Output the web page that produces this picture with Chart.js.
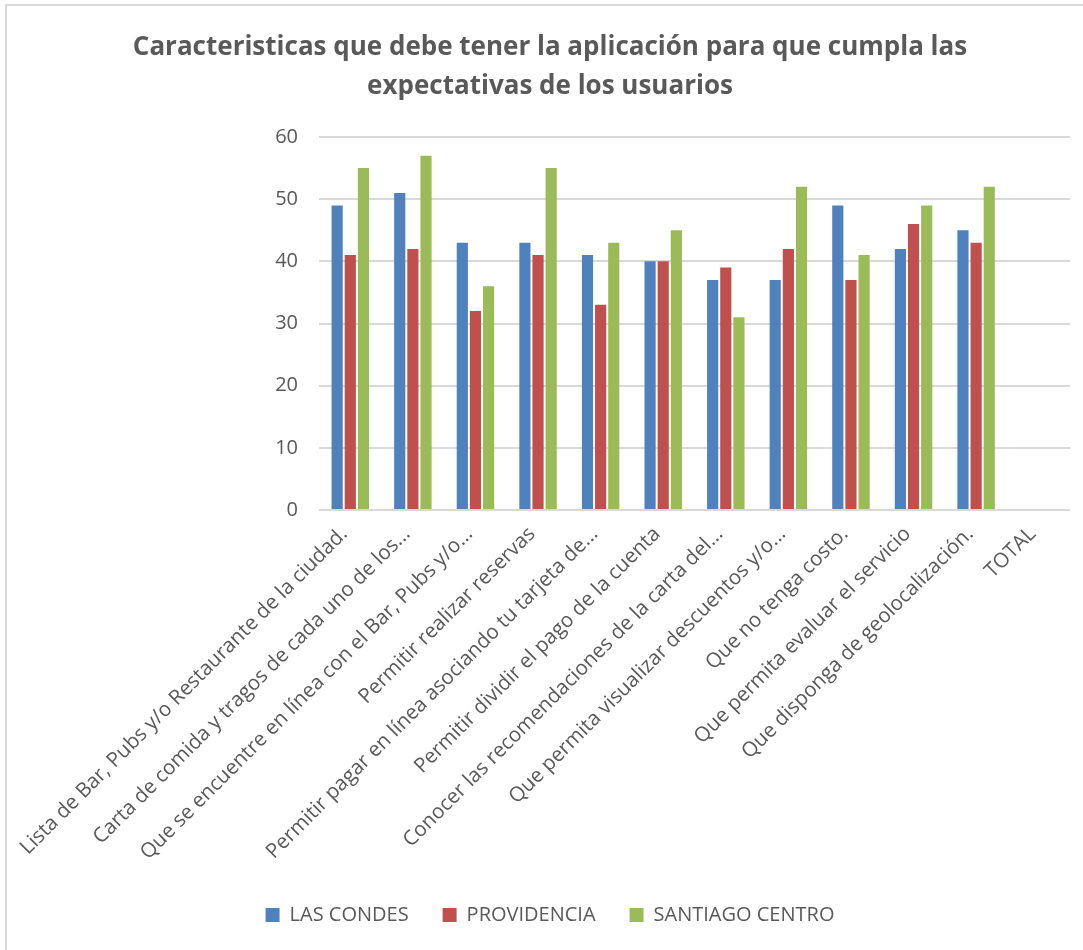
<!DOCTYPE html>
<html lang="es">
<head>
<meta charset="utf-8">
<title>Caracteristicas de la aplicación</title>
<script src="https://cdn.jsdelivr.net/npm/chart.js@4/dist/chart.umd.min.js"></script>
<style>
    html, body { margin: 0; padding: 0; background: #ffffff; }
    #wrap { position: relative; width: 1083px; height: 950px; }
</style>
</head>
<body>
<div id="wrap"><canvas id="chart" width="1083" height="950"></canvas></div>
<script>
// Categorías (eje X)
const categorias = [
    'Lista de Bar, Pubs y/o Restaurante de la ciudad.',
    'Carta de comida y tragos de cada uno de los...',
    'Que se encuentre en línea con el Bar, Pubs y/o...',
    'Permitir realizar reservas',
    'Permitir pagar en línea asociando tu tarjeta de...',
    'Permitir dividir el pago de la cuenta',
    'Conocer las recomendaciones de la carta del...',
    'Que permita visualizar descuentos y/o...',
    'Que no tenga costo.',
    'Que permita evaluar el servicio',
    'Que disponga de geolocalización.',
    'TOTAL'
];

// Valores por comuna
const lasCondes      = [49, 51, 43, 43, 41, 40, 37, 37, 49, 42, 45, null];
const providencia    = [41, 42, 32, 41, 33, 40, 39, 42, 37, 46, 43, null];
const santiagoCentro = [55, 57, 36, 55, 43, 45, 31, 52, 41, 49, 52, null];

// Eje Y
const ejeMin = 0;
const ejeMax = 60;
const ejePaso = 10;

const titulo = [
    'Caracteristicas que debe tener la aplicación para que cumpla las',
    'expectativas de los usuarios'
];

const GRIS_TEXTO = '#595959';
const GRIS_REJILLA = '#D9D9D9';

// marco del gráfico (solo borde superior e izquierdo visibles)
const marco = {
    id: 'marco',
    beforeDraw(chart) {
        const ctx = chart.ctx;
        ctx.save();
        ctx.fillStyle = '#ffffff';
        ctx.fillRect(0, 0, chart.width, chart.height);
        ctx.strokeStyle = GRIS_REJILLA;
        ctx.lineWidth = 2;
        ctx.beginPath();
        ctx.moveTo(6, chart.height + 5);
        ctx.lineTo(6, 5);
        ctx.lineTo(chart.width + 5, 5);
        ctx.stroke();
        ctx.restore();
    }
};

const serie = (label, data, color) => ({
    label,
    data,
    backgroundColor: color,
    borderWidth: 0,
    categoryPercentage: 0.63,
    barPercentage: 0.85
});

new Chart(document.getElementById('chart').getContext('2d'), {
    type: 'bar',
    data: {
        labels: categorias,
        datasets: [
            serie('LAS CONDES', lasCondes, '#4F81BD'),
            serie('PROVIDENCIA', providencia, '#C0504D'),
            serie('SANTIAGO CENTRO', santiagoCentro, '#9BBB59')
        ]
    },
    options: {
        responsive: false,
        animation: false,
        layout: { padding: { left: 30, right: 13, top: 0, bottom: 15 } },
        plugins: {
            title: {
                display: true,
                text: titulo,
                color: GRIS_TEXTO,
                font: { family: '"Open Sans", sans-serif', size: 26, weight: 'bold', lineHeight: 1.5 },
                padding: { top: 28, bottom: 31 }
            },
            legend: {
                position: 'bottom',
                labels: {
                    color: GRIS_TEXTO,
                    font: { family: '"Open Sans", sans-serif', size: 20 },
                    boxWidth: 14,
                    boxHeight: 14,
                    padding: 34
                }
            },
            tooltip: { enabled: false }
        },
        scales: {
            x: {
                grid: { display: false },
                border: { display: false },
                ticks: {
                    color: GRIS_TEXTO,
                    font: { family: '"Open Sans", sans-serif', size: 20.5 },
                    minRotation: 45,
                    maxRotation: 45,
                    autoSkip: false,
                    padding: 4,
                    labelOffset: -6
                },
                afterFit: (escala) => { escala.height = 361; }
            },
            y: {
                min: ejeMin,
                max: ejeMax,
                grid: { color: GRIS_REJILLA, lineWidth: 2, drawTicks: false },
                border: { display: false },
                ticks: {
                    stepSize: ejePaso,
                    color: GRIS_TEXTO,
                    font: { family: '"Open Sans", sans-serif', size: 20 },
                    padding: 21
                },
                afterFit: (escala) => { escala.width = 289; }
            }
        }
    },
    plugins: [marco]
});
</script>
</body>
</html>
